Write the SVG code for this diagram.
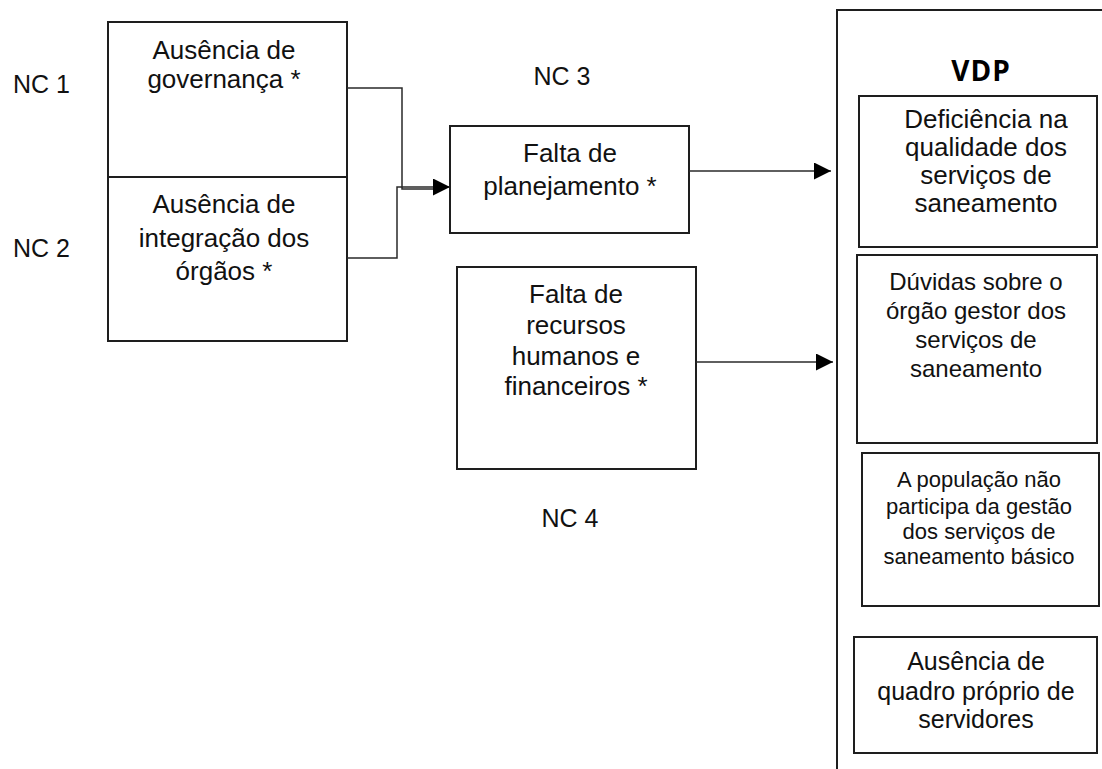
<svg xmlns="http://www.w3.org/2000/svg" width="1102" height="769" viewBox="0 0 1102 769">
<style>
  .box { fill: #ffffff; stroke: #1e1e1e; stroke-width: 2; }
  .t { font-family: "Liberation Sans", Arial, sans-serif; fill: #111; text-anchor: middle; }
  .nc { font-family: "Liberation Sans", Arial, sans-serif; fill: #111; font-size: 25px; }
  .conn { fill: none; stroke: #2a2a2a; stroke-width: 1.5; }
</style>
<defs>
  <marker id="arrow" viewBox="0 0 16 16" refX="16" refY="8" markerWidth="17" markerHeight="17" markerUnits="userSpaceOnUse" orient="auto">
    <path d="M0,0 L16,8 L0,16 z" fill="#000"/>
  </marker>
</defs>
<rect width="1102" height="769" fill="#ffffff"/>

<g id="vdp">
  <rect class="box" x="837" y="10" width="300" height="800"/>
  <text x="981" y="81" font-family="'Open Sans', 'DejaVu Sans', sans-serif" font-weight="bold" font-size="28" letter-spacing="1" text-anchor="middle" fill="#000">VDP</text>
</g>

<g id="nc-labels">
  <text class="nc" x="13" y="93">NC 1</text>
  <text class="nc" x="13" y="257">NC 2</text>
  <text class="nc" x="562" y="85" text-anchor="middle">NC 3</text>
  <text class="nc" x="570" y="527" text-anchor="middle">NC 4</text>
</g>

<g id="ausencia-governanca">
  <rect class="box" x="108" y="22" width="239" height="155"/>
  <text class="t" font-size="26"><tspan x="224" y="59">Ausência de</tspan><tspan x="224" y="88">governança *</tspan></text>
</g>

<g id="ausencia-integracao">
  <rect class="box" x="108" y="177" width="239" height="164"/>
  <text class="t" font-size="26"><tspan x="224" y="213">Ausência de</tspan><tspan x="224" y="247">integração dos</tspan><tspan x="224" y="280">órgãos *</tspan></text>
</g>

<g id="falta-planejamento">
  <rect class="box" x="450" y="126" width="239" height="107"/>
  <text class="t" font-size="26"><tspan x="570" y="162">Falta de</tspan><tspan x="570" y="195">planejamento *</tspan></text>
</g>

<g id="falta-recursos">
  <rect class="box" x="457" y="267" width="239" height="202"/>
  <text class="t" font-size="26"><tspan x="576" y="303">Falta de</tspan><tspan x="576" y="334">recursos</tspan><tspan x="576" y="365">humanos e</tspan><tspan x="576" y="395">financeiros *</tspan></text>
</g>

<g id="deficiencia">
  <rect class="box" x="859" y="96" width="238" height="151"/>
  <text class="t" font-size="26"><tspan x="986" y="128">Deficiência na</tspan><tspan x="986" y="156">qualidade dos</tspan><tspan x="986" y="184">serviços de</tspan><tspan x="986" y="212">saneamento</tspan></text>
</g>

<g id="duvidas">
  <rect class="box" x="857" y="255" width="240" height="188"/>
  <text class="t" font-size="24"><tspan x="976" y="290">Dúvidas sobre o</tspan><tspan x="976" y="319">órgão gestor dos</tspan><tspan x="976" y="348">serviços de</tspan><tspan x="976" y="377">saneamento</tspan></text>
</g>

<g id="populacao">
  <rect class="box" x="862" y="453" width="237" height="153"/>
  <text class="t" font-size="22"><tspan x="979" y="487">A população não</tspan><tspan x="979" y="514">participa da gestão</tspan><tspan x="979" y="539">dos serviços de</tspan><tspan x="979" y="564">saneamento básico</tspan></text>
</g>

<g id="quadro-proprio">
  <rect class="box" x="854" y="637" width="243" height="116"/>
  <text class="t" font-size="25"><tspan x="976" y="670">Ausência de</tspan><tspan x="976" y="700">quadro próprio de</tspan><tspan x="976" y="728">servidores</tspan></text>
</g>

<g id="connectors">
  <path class="conn" d="M347,88 H402 V189 H436"/>
  <path class="conn" d="M347,258 H397 V187 H450" marker-end="url(#arrow)"/>
  <path class="conn" d="M689,171 H831" marker-end="url(#arrow)"/>
  <path class="conn" d="M696,362 H833" marker-end="url(#arrow)"/>
</g>
</svg>
